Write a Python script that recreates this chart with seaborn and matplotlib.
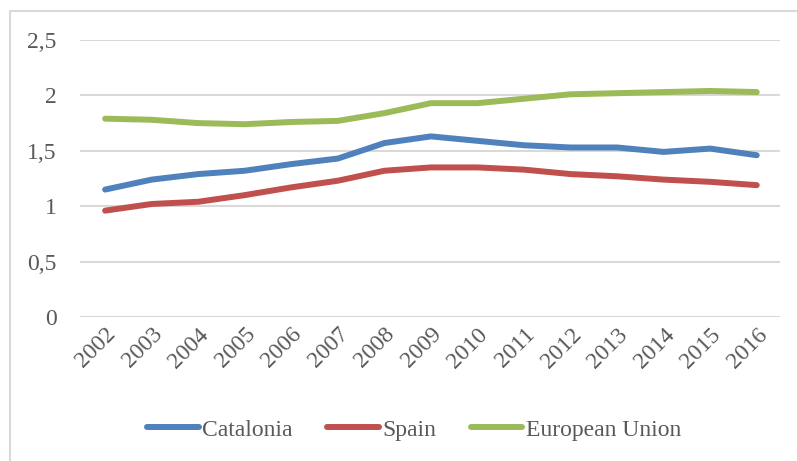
import pandas as pd
import numpy as np
import matplotlib
matplotlib.use("Agg")
import matplotlib.pyplot as plt
import seaborn as sns
from matplotlib.patches import Rectangle

# Values
years = [2002, 2003, 2004, 2005, 2006, 2007, 2008, 2009, 2010, 2011, 2012, 2013, 2014, 2015, 2016]
catalonia = [1.15, 1.24, 1.29, 1.32, 1.38, 1.43, 1.57, 1.63, 1.59, 1.55, 1.53, 1.53, 1.49, 1.52, 1.46]
spain = [0.96, 1.02, 1.04, 1.10, 1.17, 1.23, 1.32, 1.35, 1.35, 1.33, 1.29, 1.27, 1.24, 1.22, 1.19]
eu = [1.79, 1.78, 1.75, 1.74, 1.76, 1.77, 1.84, 1.93, 1.93, 1.97, 2.01, 2.02, 2.03, 2.04, 2.03]
series_names = ["Catalonia", "Spain", "European Union"]
y_ticks = [0, 0.5, 1, 1.5, 2, 2.5]
y_labels = ["0", "0,5", "1", "1,5", "2", "2,5"]

colors = ["#4F81BD", "#C0504D", "#9BBB59"]
text_color = "#595959"
grid_color = "#D9D9D9"

df = pd.DataFrame({
    "year": years * 3,
    "value": catalonia + spain + eu,
    "region": [n for n in series_names for _ in years],
})

sns.set_style("white")
plt.rcParams["font.family"] = ["Liberation Serif", "DejaVu Serif"]

fig = plt.figure(figsize=(7.97, 4.61), dpi=100)
ax = fig.add_axes([80 / 797, 1 - 317 / 461, 700 / 797, 277 / 461])

sns.lineplot(data=df, x="year", y="value", hue="region", hue_order=series_names,
             palette=colors, linewidth=4.3, ax=ax, legend=False,
             solid_capstyle="round")

ax.set_xlim(years[0] - 0.54, years[-1] + 0.5)
ax.set_ylim(0, 2.5)
ax.set_yticks(y_ticks)
ax.set_yticklabels(y_labels)
ax.set_xticks(years)
ax.set_xticklabels([str(y) for y in years], rotation=45, ha="right",
                   rotation_mode="anchor")
ax.tick_params(axis="both", length=0, labelsize=17, labelcolor=text_color)
ax.tick_params(axis="y", pad=17)
ax.tick_params(axis="x", pad=5)
ax.set_xlabel("")
ax.set_ylabel("")
ax.yaxis.grid(True, color=grid_color, linewidth=1.5)
ax.set_axisbelow(True)
for s in ax.spines.values():
    s.set_visible(False)

handles = [plt.Line2D([], [], color=c, linewidth=4.3, solid_capstyle="round") for c in colors]
fig.legend(handles, series_names, loc="center", bbox_to_anchor=(414 / 797, 1 - 430 / 461),
           ncol=3, frameon=False, fontsize=17, labelcolor=text_color,
           handlelength=2.2, handletextpad=0.15, columnspacing=1.45)

# chart outer border (cropped on the right and bottom)
fig.patches.append(Rectangle((10 / 797, -0.1), 1.2, 1 - 11 / 461 + 0.1,
                             transform=fig.transFigure, fill=False,
                             edgecolor=grid_color, linewidth=1.5))

fig.savefig("out.png", dpi=100)
